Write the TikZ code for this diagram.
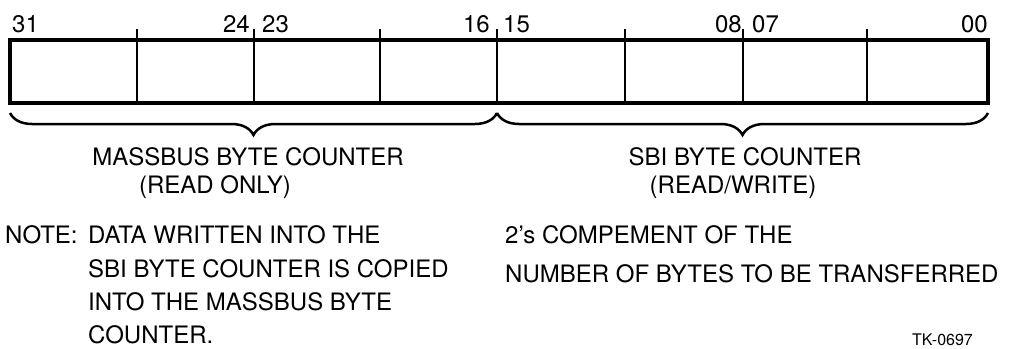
\documentclass[tikz,border=0pt]{standalone}
\usepackage{fontspec}
\setmainfont{TeX Gyre Heros}
\usetikzlibrary{decorations.pathreplacing}

\begin{document}
\begin{tikzpicture}[x=1pt, y=-1pt,
		regbox/.style={line width=3.5pt},
		divider/.style={line width=2pt},
		bitnum/.style={inner sep=0pt, font=\fontsize{24}{28}\selectfont},
		fieldtext/.style={inner sep=0pt, anchor=base, font=\fontsize{24}{28}\selectfont},
		notetext/.style={inner sep=0pt, anchor=base west, font=\fontsize{24}{28}\selectfont},
		fieldbrace/.style={decorate, decoration={brace, mirror, amplitude=22pt}, line width=2.5pt}
	]
		\useasboundingbox (0,0) rectangle (1014,348);
		% register
		\draw[regbox] (10,40) rectangle (988,103);
		\foreach \x in {137,254,380,497,625,743,867}
			\draw[divider] (\x,29) -- (\x,103);
		\foreach \n/\x/\a in {31/12/west,24/250/east,23/262/west,16/490/east,15/503/west,08/742/east,07/752/west,00/988/east}
			\node[bitnum, anchor=base \a] (b\n) at (\x,32) {\n};
		% fields
		\coordinate (mleft) at (10,113);
		\coordinate (mid) at (497,113);
		\coordinate (sright) at (988,113);
		\draw[fieldbrace] (mleft) -- (mid);
		\draw[fieldbrace] (mid) -- (sright);
		\node[fieldtext] (mbc) at (248,165) {MASSBUS BYTE COUNTER};
		\node[fieldtext] (mro) at (215,193) {(READ ONLY)};
		\node[fieldtext] (sbc) at (745,165) {SBI BYTE COUNTER};
		\node[fieldtext] (srw) at (733,193) {(READ/WRITE)};
		% notes
		\node[notetext] (note) at (5,243) {NOTE:};
		\node[notetext] (n1) at (88,243) {DATA WRITTEN INTO THE};
		\node[notetext] (n2) at (88,277) {SBI BYTE COUNTER IS COPIED};
		\node[notetext] (n3) at (88,310) {INTO THE MASSBUS BYTE};
		\node[notetext] (n4) at (88,343) {COUNTER.};
		\node[notetext] (c1) at (505,243) {2’s COMPEMENT OF THE};
		\node[notetext] (c2) at (505,282) {NUMBER OF BYTES TO BE TRANSFERRED};
		\node[notetext, font=\fontsize{16}{20}\selectfont] (tk) at (912,345) {TK-0697};
	\end{tikzpicture}
\end{document}
